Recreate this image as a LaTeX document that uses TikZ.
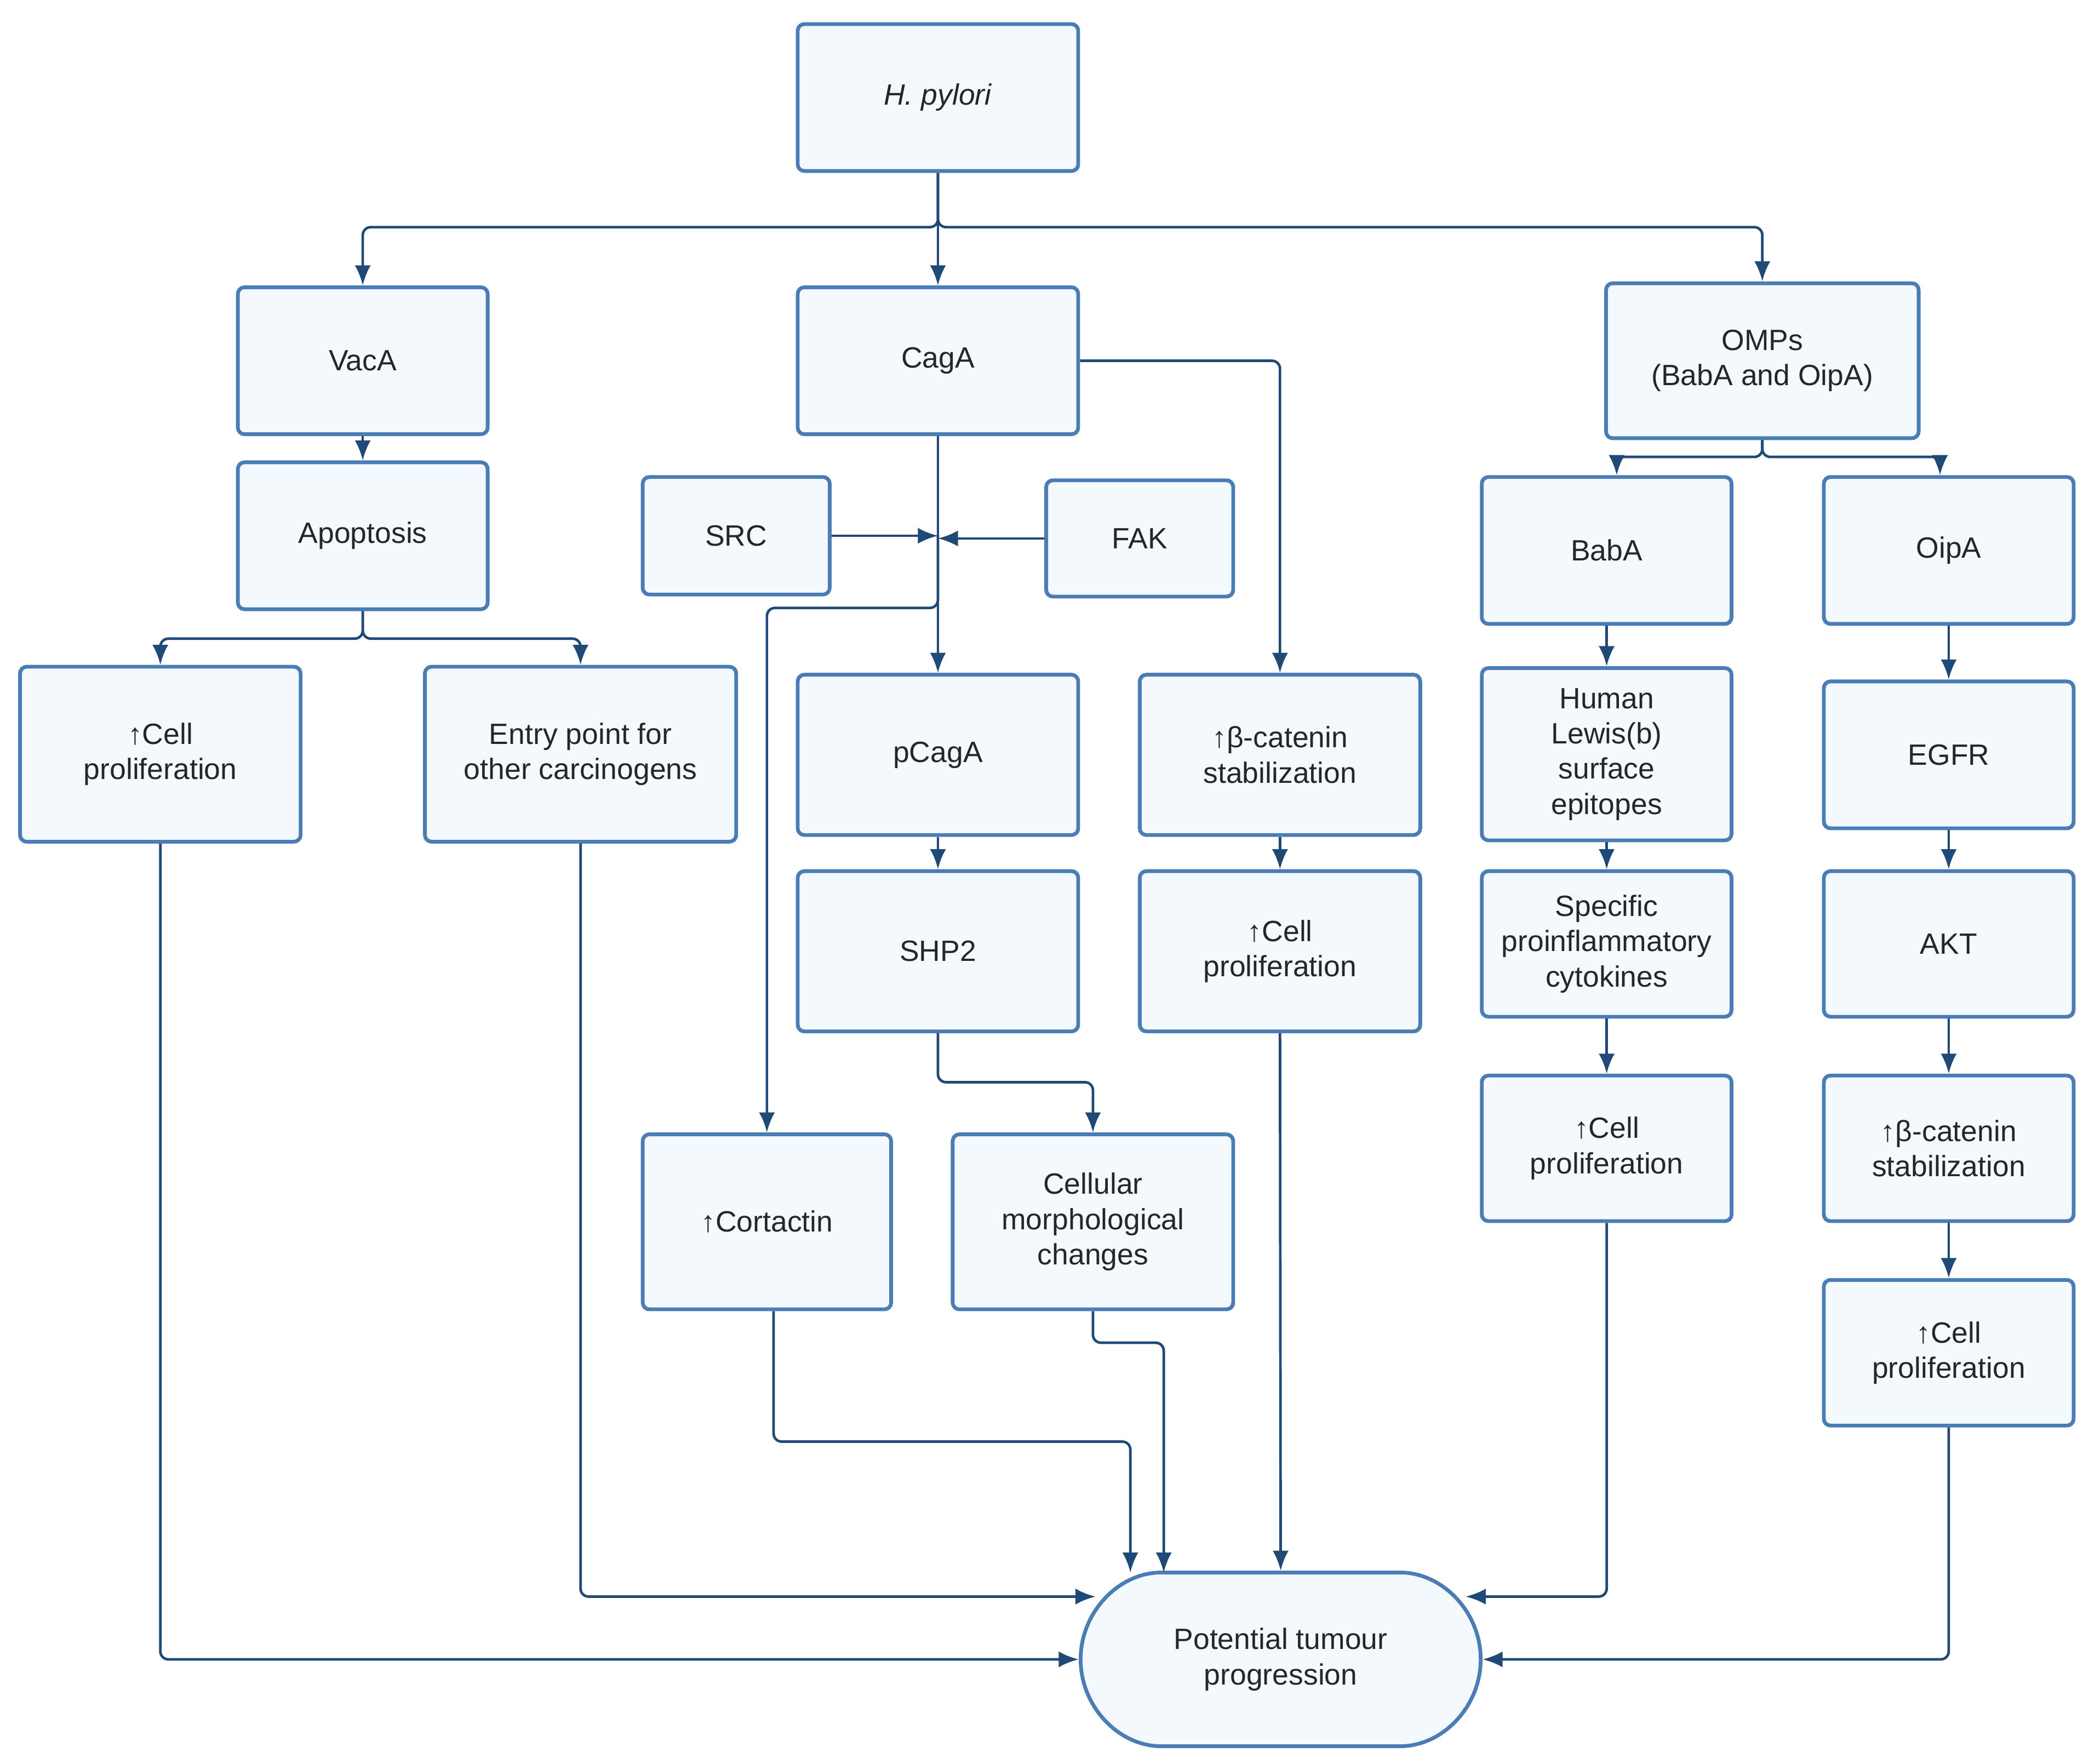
\documentclass[tikz,border=0pt]{standalone}
\usepackage{fontspec}
\setmainfont{Liberation Sans}
\usetikzlibrary{arrows.meta,shapes.misc}
\definecolor{bd}{HTML}{4A7DB5}
\definecolor{bf}{HTML}{F4F9FE}
\definecolor{ar}{HTML}{1F4A78}
\begin{document}
\begin{tikzpicture}[x=0.02cm,y=-0.02cm,
  box/.style 2 args={draw=bd,fill=bf,line width=1.6pt,rounded corners=0.1cm,minimum width=#1cm,minimum height=#2cm,align=center,inner sep=1pt,font=\fontsize{12.5}{15}\selectfont,text=black!85},
  arr/.style={draw=ar,line width=1.1pt,rounded corners=0.12cm,-{Latex[length=0.3cm,width=0.24cm]}},
  ln/.style={draw=ar,line width=1.1pt,rounded corners=0.12cm}]
\useasboundingbox (0,0) rectangle (1568,1320);
\node[box={4.2}{2.2}] (hp) at (702,73) {\textit{H. pylori}};
\node[box={3.74}{2.2}] (vac) at (271.5,270) {VacA};
\node[box={4.2}{2.2}] (cag) at (702,270) {CagA};
\node[box={4.68}{2.32}] (omp) at (1319,270) {OMPs\\(BabA and OipA)};
\node[box={3.74}{2.2}] (apo) at (271.5,401) {Apoptosis};
\node[box={2.8}{1.76}] (src) at (551,401) {SRC};
\node[box={2.8}{1.74}] (fak) at (853,403) {FAK};
\node[box={3.74}{2.2}] (bab) at (1202.5,412) {BabA};
\node[box={3.74}{2.2}] (oip) at (1458.5,412) {OipA};
\node[box={4.2}{2.62}] (cp1) at (120,564.5) {↑Cell\\proliferation};
\node[box={4.66}{2.62}] (ent) at (434.5,564.5) {Entry point for\\other carcinogens};
\node[box={4.2}{2.4}] (pca) at (702,565) {pCagA};
\node[box={4.2}{2.4}] (bc1) at (958,565) {↑β-catenin\\stabilization};
\node[box={3.74}{2.58}] (lew) at (1202.5,564.5) {Human\\Lewis(b)\\surface\\epitopes};
\node[box={3.74}{2.2}] (egf) at (1458.5,565) {EGFR};
\node[box={4.2}{2.4}] (shp) at (702,712) {SHP2};
\node[box={4.2}{2.4}] (cp2) at (958,712) {↑Cell\\proliferation};
\node[box={3.74}{2.18}] (spe) at (1202.5,706.5) {Specific\\proinflammatory\\cytokines};
\node[box={3.74}{2.18}] (akt) at (1458.5,706.5) {AKT};
\node[box={3.74}{2.18}] (cp3) at (1202.5,859.5) {↑Cell\\proliferation};
\node[box={3.74}{2.18}] (bc2) at (1458.5,859.5) {↑β-catenin\\stabilization};
\node[box={3.72}{2.62}] (cor) at (574,914.5) {↑Cortactin};
\node[box={4.2}{2.62}] (mor) at (818,914.5) {Cellular\\morphological\\changes};
\node[box={3.74}{2.18}] (cp4) at (1458.5,1012.5) {↑Cell\\proliferation};
\node[box={6.06}{2.6},rounded rectangle] (pot) at (958.5,1242) {Potential tumour\\progression};
% top
\draw[arr] (hp.south) -- (cag.north);
\draw[arr] (hp.south) -- (702,170) -| (vac.north);
\draw[arr] (hp.south) -- (702,170) -| (omp.north);
\draw[arr] (vac) -- (apo);
\draw[arr] (apo.south) -- (271.5,478) -| (cp1.north);
\draw[arr] (apo.south) -- (271.5,478) -| (ent.north);
% CagA
\draw[arr] (cag.south) -- (pca.north);
\coordinate (j1) at (702,401);
\coordinate (j2) at (702,403);
\draw[arr] (src.east) -- (j1);
\draw[arr] (fak.west) -- (j2);
\draw[arr] (702,400) -- (702,455) -| (cor.north);
\draw[arr] (cag.east) -| (bc1.north);
\draw[arr] (pca) -- (shp);
\draw[arr] (shp.south) -- (702,810) -| (mor.north);
\draw[arr] (bc1) -- (cp2);
% OMPs
\draw[arr] (omp.south) -- (1319,342) -| (1210,0 |- bab.north);
\draw[arr] (omp.south) -- (1319,342) -| (1452,0 |- oip.north);
\draw[arr] (bab) -- (lew);
\draw[arr] (lew) -- (spe);
\draw[arr] (spe) -- (cp3);
\draw[arr] (oip) -- (egf);
\draw[arr] (egf) -- (akt);
\draw[arr] (akt) -- (bc2);
\draw[arr] (bc2) -- (cp4);
% to potential
\draw[arr] (cp1.south) |- (pot.west);
\draw[arr] (ent.south) |- (820,1195);
\draw[arr] (579,0 |- cor.south) -- (579,1079) -| (846,1177);
\draw[arr] (mor.south) -- (818,1005) -| (871,1177);
\draw[arr] (cp2.south) -- (pot.north);
\draw[arr] (cp3.south) |- (1097,1195);
\draw[arr] (cp4.south) |- (pot.east);
\end{tikzpicture}
\end{document}
